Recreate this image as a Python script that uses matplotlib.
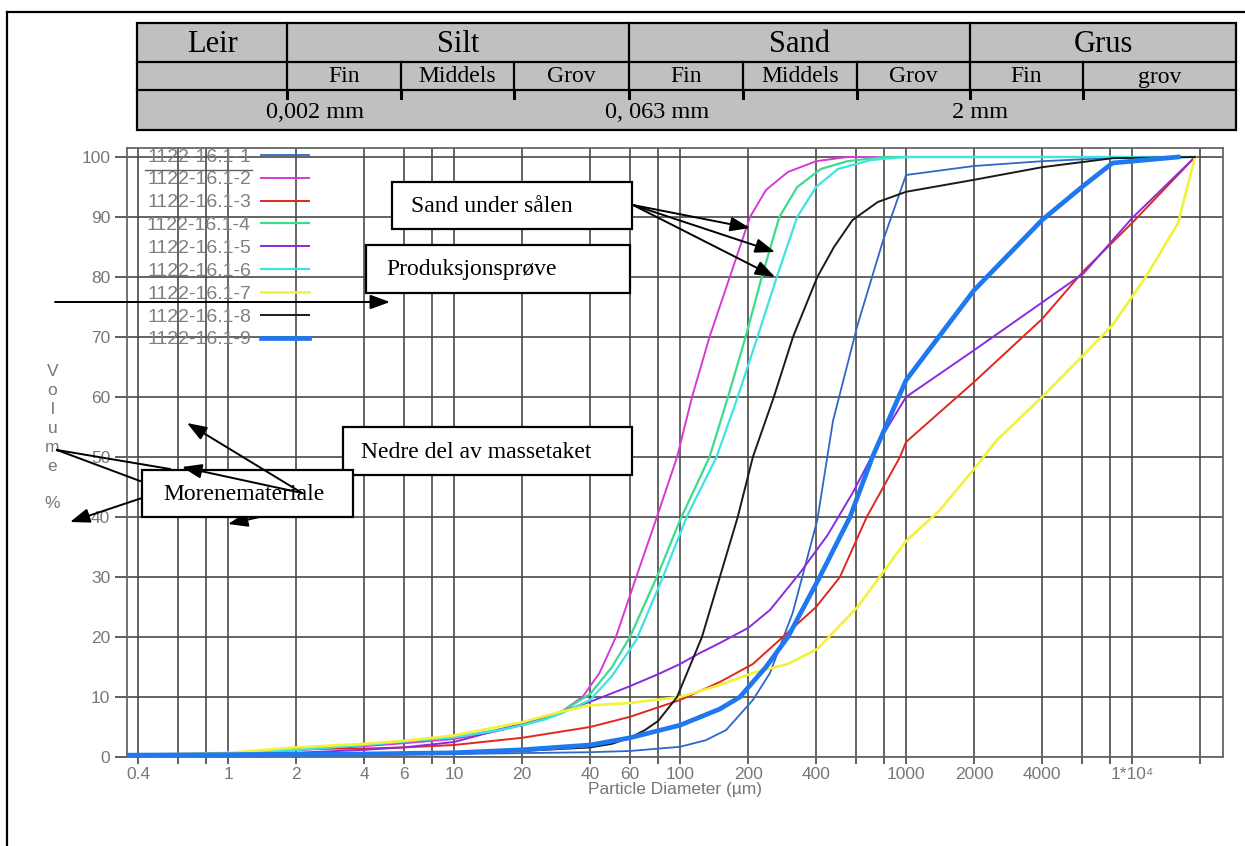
import matplotlib.pyplot as plt
from matplotlib.patches import Rectangle
from matplotlib.ticker import NullFormatter

plt.rcParams['font.family'] = ['Liberation Sans', 'DejaVu Sans']

# Prøvenavn og farger
navn = ['1122-16.1-1', '1122-16.1-2', '1122-16.1-3', '1122-16.1-4', '1122-16.1-5',
        '1122-16.1-6', '1122-16.1-7', '1122-16.1-8', '1122-16.1-9']
farger = ['#2f66c8', '#d63ad6', '#e0281e', '#3ddc8c', '#8b2be0',
          '#3fe3e3', '#f2f23a', '#1a1a1a', '#1f78f0']
bredder = [1.3, 1.4, 1.4, 1.6, 1.4, 1.6, 1.9, 1.4, 3.4]

# Kornfordeling: diameter (µm) og kumulativ volum (%)
d1 = [0.36, 1, 10, 40, 60, 100, 130, 160, 210, 250, 315, 405, 475, 610, 790, 1000, 2000, 4000, 10000, 19000]
v1 = [0.2, 0.3, 0.5, 0.8, 1.0, 1.7, 2.8, 4.5, 9.5, 14, 24, 39.5, 56, 72, 86, 97, 98.5, 99.3, 100, 100]

d2 = [0.36, 1, 2, 4, 6, 10, 15, 20, 25, 30, 37, 44, 52, 64, 79, 97, 113, 135, 166, 204, 240, 300, 400, 550, 19000]
v2 = [0.3, 0.6, 1.1, 1.8, 2.3, 3.0, 4.2, 5.3, 6.3, 7.6, 10, 14, 20, 30, 40, 50, 60, 70, 80, 90, 94.5, 97.5, 99.3, 100, 100]

d3 = [0.36, 1, 1.6, 2, 2.6, 4, 6, 10, 20, 40, 60, 100, 150, 210, 285, 400, 510, 670, 940, 1000, 2000, 4000, 6100, 10000, 19000]
v3 = [0.3, 0.6, 1.2, 1.5, 1.4, 1.4, 1.6, 2.0, 3.2, 5.0, 6.7, 9.5, 12.5, 15.5, 20, 25, 30, 40, 50, 52.5, 62.5, 73, 81, 89, 100]

d4 = [0.36, 1, 2, 4, 6, 10, 15, 20, 25, 30, 40, 50, 60, 80, 100, 135, 163, 195, 230, 275, 330, 420, 550, 800, 19000]
v4 = [0.3, 0.6, 1.2, 2.0, 2.6, 3.3, 4.4, 5.4, 6.4, 7.6, 10.5, 15, 20, 30.5, 39.5, 50, 60, 70, 80, 90, 95, 98, 99.3, 100, 100]

d5 = [0.36, 1, 2, 4, 6, 10, 15, 20, 30, 40, 60, 80, 100, 122, 150, 200, 250, 338, 450, 580, 800, 1000, 2000, 6100, 10000, 19000]
v5 = [0.2, 0.4, 0.7, 1.2, 1.6, 2.5, 4.3, 5.6, 7.6, 9.2, 11.8, 13.8, 15.5, 17.3, 19.0, 21.5, 24.5, 30.6, 37, 44, 54, 60, 67.8, 80.6, 89.8, 100]

d6 = [0.36, 1, 2, 4, 6, 10, 15, 20, 25, 30, 40, 50, 64, 84, 107, 145, 180, 220, 268, 330, 400, 500, 700, 1000, 19000]
v6 = [0.3, 0.6, 1.2, 2.0, 2.6, 3.3, 4.3, 5.3, 6.2, 7.3, 9.5, 13.5, 19.5, 30, 40, 50, 60, 70, 80, 90, 95, 98, 99.5, 100, 100]

d7 = [0.36, 1, 2, 4, 6, 10, 20, 30, 40, 60, 100, 150, 210, 300, 405, 610, 1000, 1400, 2000, 2520, 4000, 6100, 8200, 11500, 16000, 19000]
v7 = [0.3, 0.7, 1.6, 2.2, 2.7, 3.6, 5.8, 7.6, 8.6, 9.0, 10, 12, 14, 15.5, 18, 25, 36, 41, 48, 52.8, 60, 67, 72, 80, 89, 100]

d8 = [0.36, 1, 4, 10, 20, 40, 50, 60, 70, 80, 97, 125, 150, 180, 210, 260, 316, 405, 480, 580, 750, 1000, 2000, 4000, 8200, 19000]
v8 = [0.2, 0.4, 0.6, 0.8, 1.0, 1.6, 2.2, 3.2, 4.5, 6.0, 10, 20, 30, 40, 50, 60, 70, 80, 85, 89.5, 92.5, 94.2, 96.2, 98.3, 99.8, 100]

d9 = [0.36, 1, 4, 10, 20, 40, 60, 100, 150, 184, 240, 300, 415, 565, 710, 1000, 2000, 4000, 6000, 8200, 16000]
v9 = [0.3, 0.4, 0.5, 0.7, 1.2, 2.0, 3.2, 5.3, 8.0, 10, 15, 20, 30, 40, 50, 62.8, 77.8, 89.5, 95, 99, 100]

diametre = [d1, d2, d3, d4, d5, d6, d7, d8, d9]
volumer = [v1, v2, v3, v4, v5, v6, v7, v8, v9]

x_ticks = [0.4, 1, 2, 4, 6, 10, 20, 40, 60, 100, 200, 400, 1000, 2000, 4000, 10000]
x_tekst = ['0.4', '1', '2', '4', '6', '10', '20', '40', '60', '100', '200', '400',
           '1000', '2000', '4000', '1*10⁴']
x_ekstra = [0.6, 0.8, 8, 80, 600, 800, 6000, 8000, 20000]
y_ticks = [0, 10, 20, 30, 40, 50, 60, 70, 80, 90, 100]

# Klassetabell over diagrammet
hovedklasser = ['Leir', 'Silt', 'Sand', 'Grus']
underklasser = ['', 'Fin', 'Middels', 'Grov', 'Fin', 'Middels', 'Grov', 'Fin', 'grov']
grenser = ['0,002 mm', '0, 063 mm', '2 mm']

W, H = 1245, 846
fig = plt.figure(figsize=(W / 100, H / 100), dpi=100)
ax = fig.add_axes([127 / W, 1 - 757 / H, (1223 - 127) / W, (757 - 148) / H])

for d, v, f, b, n in zip(diametre, volumer, farger, bredder, navn):
    ax.plot(d, v, color=f, lw=b, label=n, solid_joinstyle='round', zorder=3)

ax.set_xscale('log')
ax.set_xlim(0.357, 25270)
ax.set_ylim(0, 101.5)
ax.set_xticks(x_ticks, x_tekst)
ax.set_xticks(x_ekstra, minor=True)
ax.xaxis.set_minor_formatter(NullFormatter())
ax.set_yticks(y_ticks)
ax.grid(True, which='both', axis='x', color='#4a4a4a', lw=1.2)
ax.grid(True, axis='y', color='#4a4a4a', lw=1.2)
ax.tick_params(axis='x', which='both', length=5, width=1.2, color='#444444',
               labelcolor='#777777', labelsize=12.5, pad=2)
ax.tick_params(axis='y', length=9, width=1.2, color='#444444',
               labelcolor='#777777', labelsize=12.5, pad=3)
for s in ax.spines.values():
    s.set_color('#666666')
    s.set_linewidth(1.3)

ax.set_xlabel('Particle Diameter (µm)', color='#777777', fontsize=12.5, labelpad=0)
ax.set_ylabel('V\no\nl\nu\nm\ne\n\n%', rotation=0, color='#777777', fontsize=12.5,
              linespacing=1.32, ha='center', va='center')
ax.yaxis.set_label_coords(-0.068, 0.524)

ax.legend(loc='upper left', bbox_to_anchor=(20 / 1096, 1.0), frameon=False,
          markerfirst=False, fontsize=14, labelcolor='#808080', borderpad=0,
          borderaxespad=0, labelspacing=0.27, handlelength=2.47, handletextpad=0.5)

# Tegnelag i pikselkoordinater for tabell, tekstbokser og piler
ov = fig.add_axes([0, 0, 1, 1], zorder=5)
ov.set_xlim(0, W)
ov.set_ylim(H, 0)
ov.axis('off')

ov.plot([7, W], [12, 12], color='black', lw=1.6)
ov.plot([7, 7], [12, H], color='black', lw=1.6)
ov.plot([145, 252], [170, 170], color='#606060', lw=1)

kanter = [137, 287, 401, 514, 629, 743, 857, 970, 1083, 1236]
ov.add_patch(Rectangle((137, 23), 1236 - 137, 130 - 23, fc='#c0c0c0', ec='black', lw=1.6))
ov.plot([137, 1236], [62, 62], color='black', lw=1.6)
ov.plot([137, 1236], [90, 90], color='black', lw=1.6)
for x in [287, 629, 970]:
    ov.plot([x, x], [23, 62], color='black', lw=1.6)
for x in kanter[1:-1]:
    ov.plot([x, x], [62, 90], color='black', lw=1.6)
    ov.plot([x, x], [90, 98], color='black', lw=2.2)

serif = 'Liberation Serif'
for tekst, x0, x1 in zip(hovedklasser, [137, 287, 629, 970], [287, 629, 970, 1236]):
    ov.text((x0 + x1) / 2, 44, tekst, family=serif, fontsize=22, ha='center', va='center')
for tekst, x0, x1 in zip(underklasser, kanter[:-1], kanter[1:]):
    ov.text((x0 + x1) / 2, 77, tekst, family=serif, fontsize=17, ha='center', va='center')
for tekst, x in zip(grenser, [315, 657, 980]):
    ov.text(x, 112, tekst, family=serif, fontsize=17.5, ha='center', va='center')


def boks(x0, y0, x1, y1, tekst, tx):
    ov.add_patch(Rectangle((x0, y0), x1 - x0, y1 - y0, fc='white', ec='black', lw=1.6, zorder=3))
    ov.text(tx, (y0 + y1) / 2 + 1, tekst, family=serif, fontsize=17, ha='left', va='center', zorder=3)


def pil(start, spiss, z=4):
    ov.annotate('', xy=spiss, xytext=start, zorder=z,
                arrowprops=dict(arrowstyle='-|>,head_length=0.6,head_width=0.22',
                                mutation_scale=20, color='black', lw=1.4,
                                shrinkA=0, shrinkB=0))


boks(392, 182, 632, 229, 'Sand under sålen', 411)
boks(366, 245, 630, 293, 'Produksjonsprøve', 386)
boks(343, 427, 632, 475, 'Nedre del av massetaket', 361)
boks(142, 470, 353, 517, 'Morenemateriale', 163)

for spiss in [(750, 228), (775, 252), (775, 277)]:
    pil((633, 205), spiss)
pil((55, 302), (390, 302))

ov.plot([57, 170], [450, 469], color='black', lw=1.4, zorder=4)
ov.plot([57, 140], [450, 481], color='black', lw=1.4, zorder=4)
pil((302, 493), (187, 423))
pil((302, 493), (182, 467))
pil((142, 498), (70, 522))
pil((300, 508), (228, 524), z=2)

fig.savefig('out.png', dpi=100)
